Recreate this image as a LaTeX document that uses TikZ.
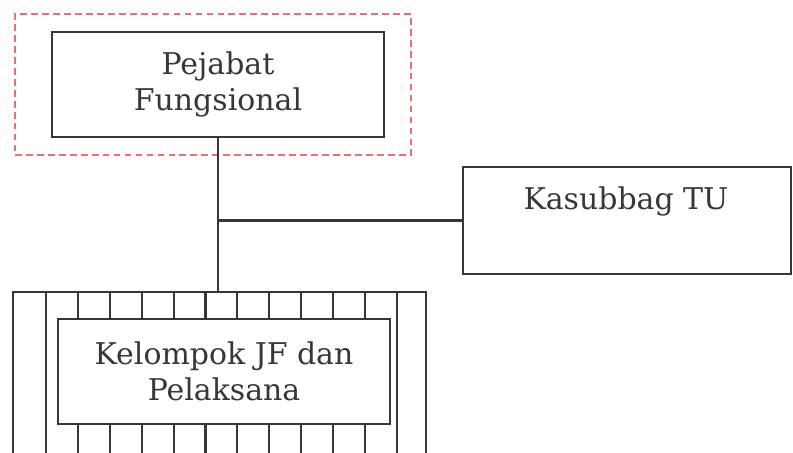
\documentclass[tikz,border=0pt]{standalone}
\usepackage{fontspec}
\setmainfont{DejaVu Serif}
\usetikzlibrary{positioning,calc}
\definecolor{garis}{RGB}{55,55,55}
\definecolor{tepi}{RGB}{228,112,122}
\tikzset{
  kotak/.style={draw=garis,line width=1.5pt,align=center,text=garis,inner sep=0pt,
                font=\fontsize{21.3}{26}\selectfont},
  teks/.style={kotak,draw=none},
  sambung/.style={draw=garis,line width=1.5pt},
  batas/.style={draw=tepi,line width=1.5pt,dash pattern=on 4.8pt off 3pt}
}

\begin{document}
\begin{tikzpicture}
  \useasboundingbox (0,0) rectangle (19.825,-11.325);
  \clip (0,0) rectangle (19.825,-11.325);

  % sorotan putus-putus
  \node[batas,minimum width=9.9cm,minimum height=3.525cm] (sorot) at (5.325,-2.1125) {};
  \node[kotak,minimum width=8.3cm,minimum height=2.625cm] (pejabat) at (5.45,-2.1125)
    {Pejabat\\Fungsional};

  \node[kotak,minimum width=8.2cm,minimum height=2.675cm] (kasubbag) at (15.68,-5.5125) {};
  \node[teks,anchor=base] (kasubbagteks) at (15.65,-5.25) {Kasubbag TU};

  % bingkai bergaris kelompok
  \node[kotak,minimum width=10.325cm,minimum height=5cm] (kelompokluar) at (5.4875,-9.8) {};
  \draw[sambung] (1.15,-7.3) -- (1.15,-12.3);
  \draw[sambung] (9.925,-7.3) -- (9.925,-12.3);
  \foreach \k in {1,...,10}
    \draw[sambung] ({1.15+0.7975*\k},-7.3) -- ({1.15+0.7975*\k},-12.3);
  \node[kotak,fill=white,minimum width=8.3cm,minimum height=2.625cm] (kelompok) at (5.6,-9.2875)
    {Kelompok JF dan\\Pelaksana};

  \draw[sambung] (pejabat.south) -- (pejabat.south |- kelompokluar.north);
  \coordinate (cabang) at (pejabat.south |- kasubbag.west);
  \draw[sambung] (cabang) -- (kasubbag.west);
\end{tikzpicture}
\end{document}
